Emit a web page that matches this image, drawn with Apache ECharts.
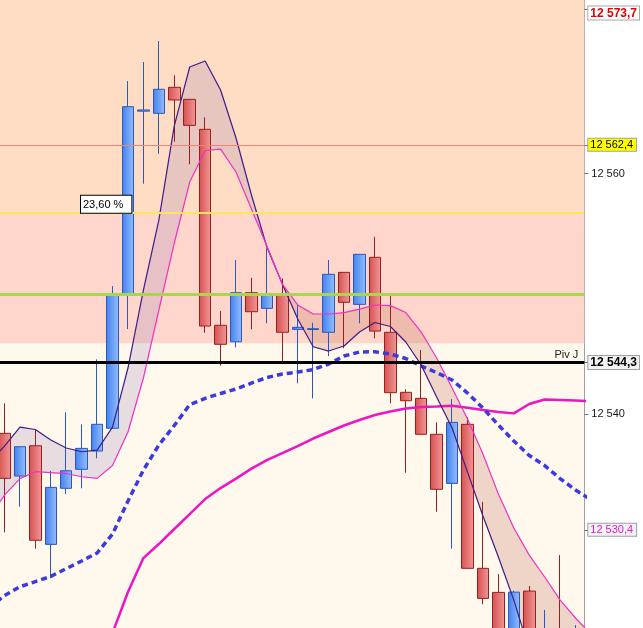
<!DOCTYPE html>
<html>
<head>
<meta charset="utf-8">
<script src="https://cdn.jsdelivr.net/npm/echarts@6/dist/echarts.min.js"></script>
<style>
  html, body { margin: 0; padding: 0; background: #fff; }
  #chart { width: 643px; height: 628px; }
</style>
</head>
<body>
<div id="chart"></div>
<script>
// bar slots on the x axis (slot 0 and 39 only carry the indicator lines)
const barIndex = [0, 1, 2, 3, 4, 5, 6, 7, 8, 9, 10, 11, 12, 13, 14, 15, 16, 17, 18, 19, 20,
  21, 22, 23, 24, 25, 26, 27, 28, 29, 30, 31, 32, 33, 34, 35, 36, 37, 38, 39];
const candleSlots = barIndex.slice(1, 39);

const opens = [12538.42, 12534.87, 12537.39, 12529.19, 12533.85, 12535.43, 12536.95, 12538.84, 12549.92, 12565.2,
  12565.02, 12567.18, 12566.18, 12563.69, 12547.4, 12546.03, 12550.11, 12548.81, 12549.98, 12547.06,
  12547.05, 12546.82, 12551.8, 12549.14, 12553.05, 12546.82, 12541.83, 12541.33, 12538.34, 12534.26,
  12539.17, 12527.2, 12525.2, 12519.8, 12525.31, 12519.5, 12521.6, 12519.6];
const closes = [12534.68, 12537.31, 12529.53, 12533.93, 12535.31, 12537.17, 12539.17, 12549.92, 12565.57, 12565.3,
  12567.02, 12566.13, 12564.02, 12547.34, 12545.82, 12550.11, 12548.53, 12549.98, 12546.82, 12547.23,
  12547.12, 12551.64, 12549.31, 12553.3, 12546.92, 12541.8, 12541.13, 12538.34, 12533.77, 12539.33,
  12527.2, 12524.7, 12520.5, 12525.22, 12520.3, 12521.9, 12519.0, 12521.8];
const lows = [12530.19, 12532.32, 12528.83, 12526.37, 12533.37, 12533.85, 12536.34, 12538.84, 12547.09, 12559.17,
  12561.66, 12562.66, 12560.78, 12546.78, 12544.04, 12545.57, 12547.07, 12547.56, 12544.24, 12542.58,
  12541.33, 12544.85, 12545.49, 12547.56, 12546.32, 12540.91, 12535.15, 12538.34, 12531.9, 12528.83,
  12527.2, 12524.21, 12519.5, 12518.5, 12519.2, 12518.7, 12518.2, 12519.0];
const highs = [12540.91, 12537.31, 12538.69, 12535.31, 12540.17, 12539.17, 12544.57, 12550.66, 12567.7, 12569.29,
  12571.03, 12568.18, 12566.18, 12564.69, 12548.59, 12552.83, 12551.35, 12553.8, 12551.3, 12549.09,
  12547.61, 12552.83, 12551.8, 12553.3, 12554.76, 12549.92, 12542.08, 12545.35, 12539.33, 12541.27,
  12539.75, 12532.73, 12526.72, 12525.34, 12525.73, 12523.73, 12528.3, 12522.48];

// fast band: dark upper edge and thin magenta edge (one value per slot 0..39)
const upperBand = [12536.0, 12537.36, 12538.94, 12538.74, 12537.86, 12537.2, 12536.89, 12537.03, 12538.94, 12543.85, 12550.33,
  12556.15, 12563.97, 12568.87, 12569.37, 12566.96, 12562.97, 12558.23, 12553.91, 12550.83, 12547.92,
  12545.62, 12545.26, 12545.68, 12546.84, 12547.63, 12547.3, 12546.01, 12544.1, 12541.44, 12538.86,
  12535.2, 12531.55, 12528.14, 12524.56, 12520.41, 12517.08, 12514.6, 12512.5, 12510.5];
const lowerBand = [12531.38, 12533.29, 12534.66, 12535.23, 12535.16, 12535.08, 12534.81, 12534.68, 12535.74, 12538.53, 12543.02,
  12548.67, 12554.24, 12559.31, 12561.93, 12562.05, 12560.14, 12557.06, 12553.99, 12550.83, 12549.09,
  12548.34, 12548.34, 12548.46, 12548.75, 12549.09, 12549.04, 12548.46, 12546.84, 12544.68, 12542.19,
  12539.61, 12536.7, 12533.37, 12530.55, 12528.3, 12526.48, 12524.56, 12523.07, 12521.7];
const dashedMa = [12523.9, 12524.94, 12525.67, 12526.1, 12526.53, 12527.18, 12527.81, 12528.47, 12530.05, 12532.79, 12535.37,
  12537.45, 12539.07, 12540.81, 12541.33, 12541.73, 12542.1, 12542.6, 12543.06, 12543.35, 12543.52,
  12543.72, 12544.18, 12544.85, 12545.18, 12545.2, 12545.01, 12544.64, 12544.01, 12543.47, 12542.85,
  12541.77, 12540.52, 12539.11, 12537.78, 12536.58, 12535.74, 12534.66, 12533.71, 12532.9];
const slowMa = [null, null, null, null, null, null, null, 12517.9, 12521.82, 12525.23, 12528.05,
  12529.22, 12530.47, 12531.71, 12532.96, 12533.87, 12534.66, 12535.49, 12536.2, 12536.78, 12537.36,
  12537.99, 12538.53, 12539.07, 12539.53, 12539.94, 12540.23, 12540.48, 12540.61, 12540.65, 12540.71,
  12540.55, 12540.36, 12540.19, 12540.08, 12540.86, 12541.23, 12541.19, 12541.15, 12541.1];

// horizontal levels
const highLabel = 12573.7;
const resistLevel = 12562.4;
const fib236 = 12556.76;
const greenLevel = 12550.0;
const fib382 = 12545.9;
const pivotLevel = 12544.3;
const maLabel = 12530.4;
const roundTicks = [12540, 12560];

// visible window
const xMin = 0.7086, xMax = 38.565;
const yMin = 12522.24, yMax = 12574.44;

function frPrice(v) {
  const r = Math.round(v * 10) / 10;
  const ip = Math.floor(r);
  const dec = Math.round((r - ip) * 10);
  const s = String(ip).replace(/\B(?=(\d{3})+(?!\d))/g, ' ');
  return dec ? s + ',' + dec : s;
}
const near = (a, b) => Math.abs(a - b) < 0.01;

const lavender = 'rgba(120,100,180,0.18)';
const salmon = 'rgba(180,90,70,0.22)';

// fill between the two band edges, colour depends on which edge is on top
function renderBand(params, api) {
  if (params.dataIndex !== 0) return;
  const pieces = [];
  let top = [], bot = [], sign = 0;
  const flush = () => {
    if (top.length > 1) {
      pieces.push({
        type: 'polygon',
        shape: { points: top.concat(bot.slice().reverse()) },
        style: { fill: sign > 0 ? lavender : salmon }
      });
    }
  };
  for (let i = 0; i < barIndex.length; i++) {
    const d = upperBand[i] - lowerBand[i];
    const p = api.coord([barIndex[i], upperBand[i]]);
    const m = api.coord([barIndex[i], lowerBand[i]]);
    const s = d >= 0 ? 1 : -1;
    if (i > 0 && s !== sign) {
      const dPrev = upperBand[i - 1] - lowerBand[i - 1];
      const t = dPrev / (dPrev - d);
      const pp = top[top.length - 1];
      const cross = [pp[0] + t * (p[0] - pp[0]), pp[1] + t * (p[1] - pp[1])];
      top.push(cross); bot.push(cross);
      flush();
      top = [cross]; bot = [cross];
    }
    sign = s;
    top.push(p); bot.push(m);
  }
  flush();
  return { type: 'group', children: pieces };
}

const candleData = opens.map((o, i) => [candleSlots[i], o, closes[i], lows[i], highs[i]]);
const pairs = (arr) => arr.map((v, i) => [barIndex[i], v]);
const axisValues = [highLabel, resistLevel, roundTicks[1], pivotLevel, roundTicks[0], maLabel];

var myChart = echarts.init(document.getElementById('chart'));

var option = {
  backgroundColor: '#ffffff',
  animation: false,
  textStyle: { fontFamily: 'Liberation Sans, Arial, sans-serif' },
  grid: {
    left: 0, right: 58.5, top: 0, bottom: 0,
    show: true, backgroundColor: '#fff8ec', borderWidth: 0
  },
  xAxis: { type: 'value', min: xMin, max: xMax, show: false },
  yAxis: {
    type: 'value',
    position: 'right',
    min: yMin,
    max: yMax,
    splitLine: { show: false },
    axisLine: { show: true, lineStyle: { color: '#a0a0a0', width: 1 } },
    axisTick: {
      show: true, length: 4,
      customValues: axisValues,
      lineStyle: { color: '#707070' }
    },
    axisLabel: {
      margin: 4,
      customValues: axisValues,
      formatter: function (v) {
        // the top label sits a little lower than its tick, kept inside the frame
        if (near(v, highLabel)) return '{gap|}\n{red|' + frPrice(v) + '}';
        let key = 'pln';
        if (near(v, resistLevel)) key = 'yel';
        else if (near(v, pivotLevel)) key = 'blk';
        else if (near(v, maLabel)) key = 'mag';
        return '{' + key + '|' + frPrice(v) + '}';
      },
      rich: {
        gap: { lineHeight: 8, fontSize: 1 },
        red: { color: '#e00000', fontWeight: 'bold', fontSize: 12, lineHeight: 11,
          backgroundColor: '#ffffff', borderColor: '#a8a8a8', borderWidth: 1, padding: [1, 2, 0, 2] },
        yel: { color: '#000000', fontSize: 11, lineHeight: 11,
          backgroundColor: '#ffff00', borderColor: '#a0a0a0', borderWidth: 1, padding: [1, 3, 0, 2] },
        blk: { color: '#000000', fontWeight: 'bold', fontSize: 12, lineHeight: 11,
          backgroundColor: '#f2f2f2', borderColor: '#a0a0a0', borderWidth: 1, padding: [1, 2, 0, 2] },
        mag: { color: '#e81cc8', fontSize: 11, lineHeight: 11,
          backgroundColor: '#f2f2f6', borderColor: '#a0a0a0', borderWidth: 1, padding: [1, 3, 0, 2] },
        pln: { color: '#1a1a1a', fontSize: 11, padding: [0, 0, 0, 3] }
      }
    }
  },
  series: [
    {
      name: 'band',
      type: 'custom',
      z: 1.5,
      silent: true,
      clip: true,
      renderItem: renderBand,
      data: [[barIndex[1], upperBand[1]]],
      markArea: {
        silent: true,
        z: 1,
        data: [
          [{ yAxis: fib236, itemStyle: { color: '#ffdcc4' } }, { yAxis: yMax }],
          [{ yAxis: fib382, itemStyle: { color: '#ffd6cb' } }, { yAxis: fib236 }]
        ]
      }
    },
    {
      name: 'price',
      type: 'candlestick',
      z: 2,
      silent: true,
      barWidth: 12,
      data: candleData,
      itemStyle: {
        color: new echarts.graphic.LinearGradient(0, 0, 1, 0, [
          { offset: 0, color: '#4280ee' }, { offset: 1, color: '#94bffc' }
        ]),
        color0: new echarts.graphic.LinearGradient(0, 0, 1, 0, [
          { offset: 0, color: '#d65050' }, { offset: 1, color: '#f29898' }
        ]),
        borderColor: '#2a58c0',
        borderColor0: '#962020',
        borderWidth: 1
      },
      markLine: {
        silent: true,
        symbol: ['none', 'none'],
        z: 5,
        label: { show: false },
        data: [
          { yAxis: resistLevel, lineStyle: { color: '#f08478', width: 1, type: 'solid' } },
          {
            yAxis: fib236,
            lineStyle: { color: '#ffe45c', width: 2, type: 'solid' },
            label: {
              show: true, position: 'insideStartTop', distance: [81, 0],
              formatter: '23,60 %', color: '#000', fontSize: 11, lineHeight: 12,
              backgroundColor: '#ffffff', borderColor: '#000000', borderWidth: 1,
              padding: [3, 8, 2, 2]
            }
          },
          { yAxis: greenLevel, lineStyle: { color: '#a6d84a', width: 3, type: 'solid' } },
          {
            yAxis: pivotLevel,
            lineStyle: { color: '#000000', width: 3, type: 'solid' },
            label: {
              show: true, position: 'insideEndTop', distance: [6, 2],
              formatter: 'Piv J', color: '#202020', fontSize: 11
            }
          }
        ]
      }
    },
    {
      name: 'slow', type: 'line', z: 3, silent: true, symbol: 'none',
      data: pairs(slowMa),
      lineStyle: { color: '#ee14c4', width: 2.5 }
    },
    {
      name: 'dashed', type: 'line', z: 3, silent: true, symbol: 'none',
      data: pairs(dashedMa),
      lineStyle: { color: '#3a3ae0', width: 3.5, type: [6, 4] }
    },
    {
      name: 'upper', type: 'line', z: 3, silent: true, symbol: 'none',
      data: pairs(upperBand),
      lineStyle: { color: '#3c1c88', width: 1.2 }
    },
    {
      name: 'lower', type: 'line', z: 3, silent: true, symbol: 'none',
      data: pairs(lowerBand),
      lineStyle: { color: '#f030c4', width: 1.2 }
    }
  ]
};

myChart.setOption(option);

window.addEventListener('resize', function () {
  myChart.resize();
});
</script>
</body>
</html>
